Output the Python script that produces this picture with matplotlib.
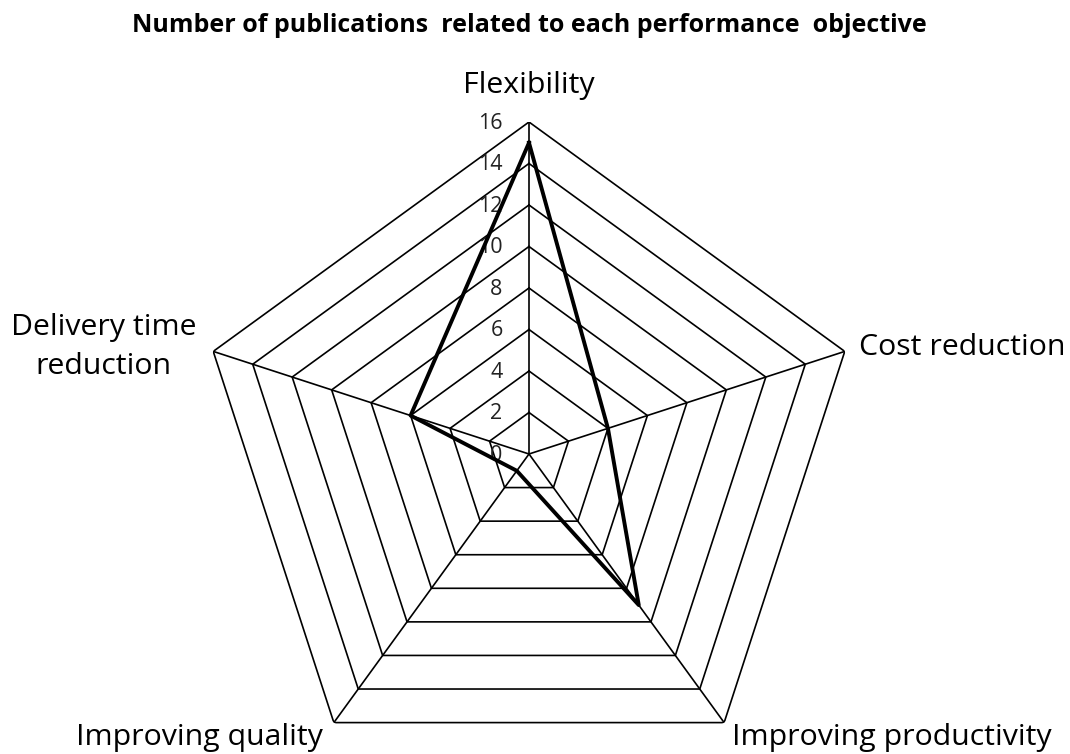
import matplotlib.pyplot as plt
import numpy as np

categories = ["Flexibility", "Cost reduction", "Improving productivity",
              "Improving quality", "Delivery time\nreduction"]
publications = [15, 4, 9, 1, 6]
ring_values = [0, 2, 4, 6, 8, 10, 12, 14, 16]

plt.rcParams["font.family"] = ["Open Sans", "DejaVu Sans"]

fig = plt.figure(figsize=(10.7, 7.54), dpi=100)
# polar axes centred on (529, 454) px with radius 332 px
cx, cy, rad = 529 / 1070, 1 - 454 / 754, 332
ax = fig.add_axes([cx - rad / 1070, cy - rad / 754, 2 * rad / 1070, 2 * rad / 754],
                  projection="polar")
ax.set_theta_offset(np.pi / 2)
ax.set_theta_direction(-1)
ax.set_ylim(0, 16)
ax.axis("off")

n = len(categories)
angles = np.linspace(0, 2 * np.pi, n, endpoint=False)
closed = np.append(angles, angles[0])

# pentagonal grid
for r in ring_values[1:]:
    ax.plot(closed, [r] * (n + 1), color="black", lw=1.2, zorder=1)
for a in angles:
    ax.plot([a, a], [0, 16], color="black", lw=1.2, zorder=1)

# tick labels along the top spoke
for r in ring_values:
    ax.annotate(str(r), xy=(0, r), xytext=(-19, -1), textcoords="offset points",
                ha="right", va="center", fontsize=15.5, color="#222222")

# data
vals = publications + publications[:1]
ax.plot(closed, vals, color="black", lw=2.8, zorder=3)

# category labels
label_opts = [
    dict(xytext=(0, 26), ha="center", va="center"),
    dict(xytext=(10, 3), ha="left", va="center"),
    dict(xytext=(6, -11), ha="left", va="center"),
    dict(xytext=(-8, -11), ha="right", va="center"),
    dict(xytext=(-12, 3), ha="right", va="center"),
]
for a, name, opt in zip(angles, categories, label_opts):
    ax.annotate(name, xy=(a, 16), textcoords="offset points", linespacing=1.45,
                fontsize=21.8, multialignment="center", annotation_clip=False, **opt)

fig.text(cx, 1 - 26 / 754, "Number of publications  related to each performance  objective",
         ha="center", va="center", fontsize=18, fontweight="bold")

fig.savefig("out.png", dpi=100, facecolor="white")
